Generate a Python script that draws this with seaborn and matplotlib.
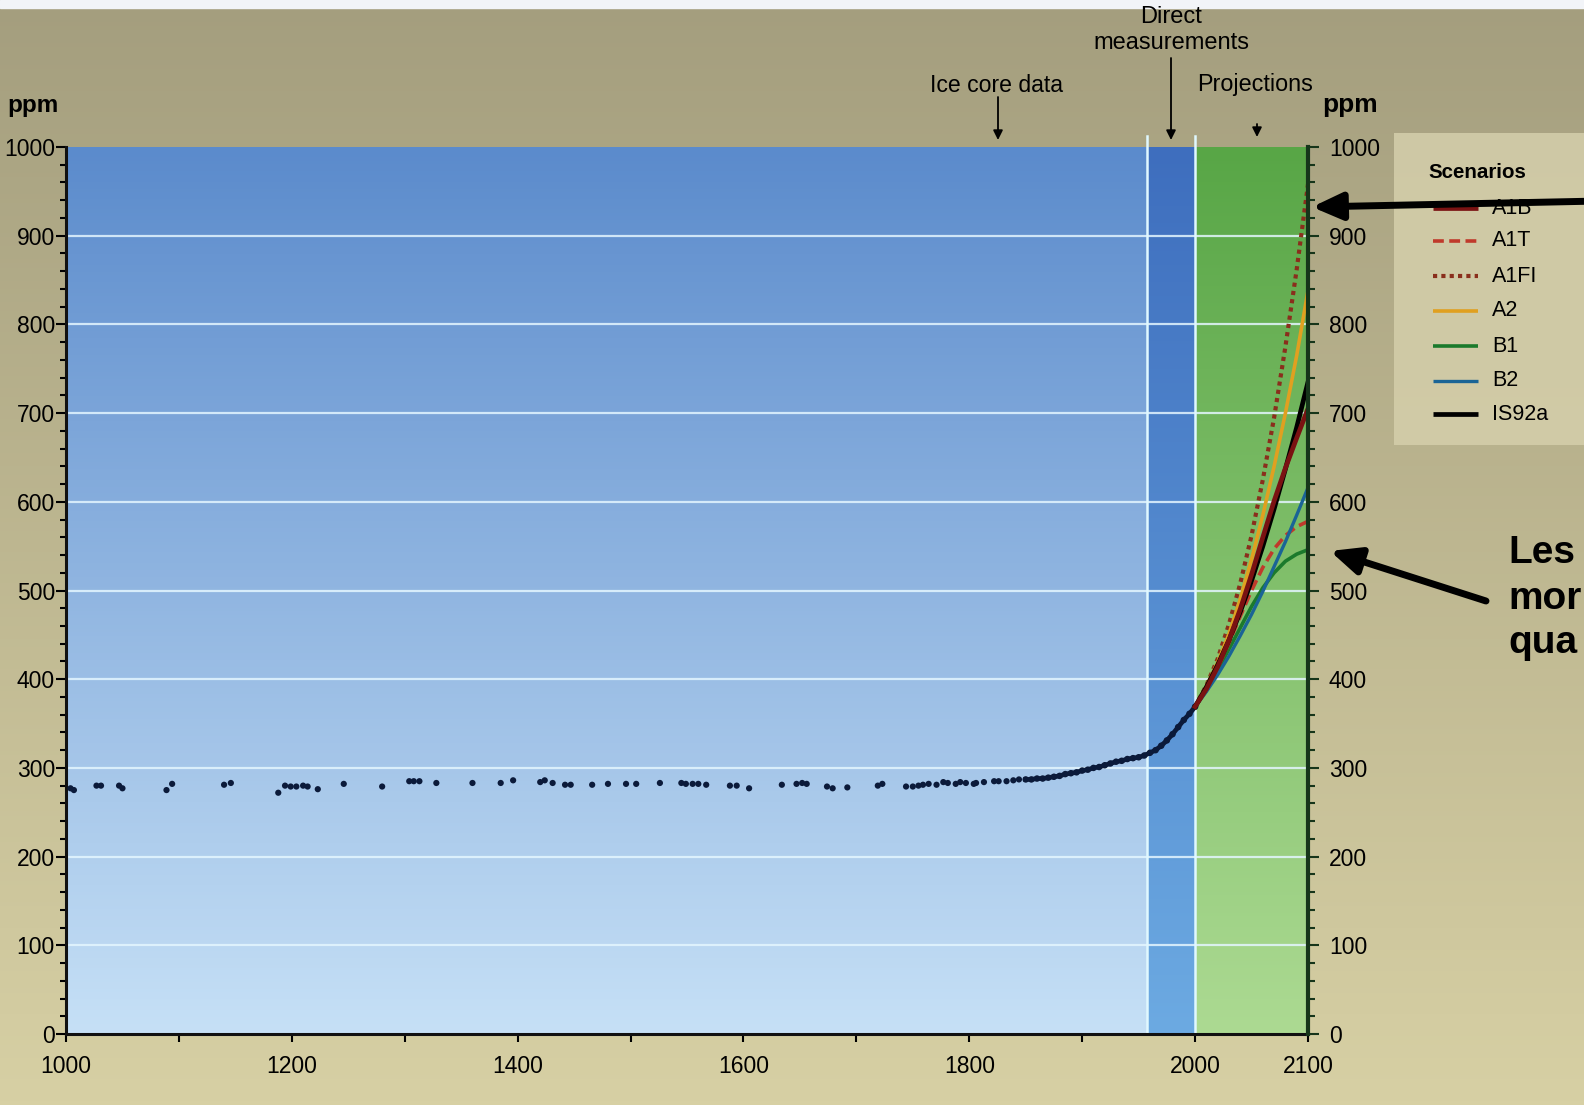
import numpy as np
import pandas as pd
import matplotlib
matplotlib.use("Agg")
import matplotlib.pyplot as plt
import seaborn as sns
from matplotlib.patches import Rectangle
from matplotlib.ticker import MultipleLocator

plt.rcParams['font.family'] = ['Liberation Sans', 'DejaVu Sans']

# ice core samples (year, ppm)
ice_years = [1004, 1007, 1027, 1031, 1047, 1050, 1089, 1094, 1140, 1146,
             1188, 1194, 1199, 1204, 1210, 1214, 1223, 1246, 1280, 1304,
             1308, 1313, 1328, 1360, 1385, 1396, 1420, 1424, 1431, 1442,
             1447, 1466, 1480, 1496, 1505, 1526, 1545, 1549, 1555, 1560,
             1567, 1588, 1594, 1605, 1634, 1647, 1652, 1656, 1674, 1679,
             1692, 1719, 1723, 1744, 1750, 1755, 1759, 1764, 1771, 1777,
             1781, 1788, 1792, 1797, 1804, 1806, 1813, 1822, 1826, 1833,
             1839, 1844]
ice_ppm = [277, 275, 280, 280, 280, 277, 275, 282, 281, 283,
           272, 280, 279, 279, 280, 279, 276, 282, 279, 285,
           285, 285, 283, 283, 283, 286, 284, 286, 283, 281,
           281, 281, 282, 282, 282, 283, 283, 282, 282, 282,
           281, 280, 280, 277, 281, 282, 283, 282, 279, 277,
           278, 280, 282, 279, 279, 280, 281, 282, 281, 284,
           283, 282, 284, 283, 282, 283, 284, 285, 285, 285,
           286, 287]

# smoothed record (ice core + direct measurements)
rec_years = list(range(1850, 2001, 5))
rec_ppm = [287, 287, 288, 288, 289, 290, 291, 293, 294, 295,
           297, 298, 300, 301, 303, 305, 307, 308, 310, 311,
           312, 314, 317, 320, 325, 331, 338, 346, 354, 361, 369]

# projections
proj_years = list(range(2000, 2101, 10))
A1B = [369, 389, 414, 444, 479, 518, 560, 601, 638, 672, 705]
A1T = [369, 389, 413, 441, 471, 500, 526, 547, 562, 572, 578]
A1FI = [369, 393, 423, 462, 508, 562, 625, 695, 775, 862, 958]
A2 = [369, 392, 419, 451, 490, 535, 585, 640, 700, 765, 838]
B1 = [369, 387, 410, 434, 458, 482, 503, 520, 533, 541, 546]
B2 = [369, 386, 405, 426, 449, 473, 499, 527, 555, 585, 616]
IS92a = [369, 391, 416, 444, 476, 511, 550, 592, 637, 684, 735]

scenarios = ['A1B', 'A1T', 'A1FI', 'A2', 'B1', 'B2', 'IS92a']
series = {'A1B': A1B, 'A1T': A1T, 'A1FI': A1FI, 'A2': A2,
          'B1': B1, 'B2': B2, 'IS92a': IS92a}

colors = {'A1B': '#7a1212', 'A1T': '#c0392b', 'A1FI': '#8a2e1c', 'A2': '#e0a020',
          'B1': '#1b7a2c', 'B2': '#1a6496', 'IS92a': '#000000'}
styles = {'A1B': '-', 'A1T': (0, (3, 1.5)), 'A1FI': (0, (1, 1)), 'A2': '-',
          'B1': '-', 'B2': '-', 'IS92a': '-'}
widths = {'A1B': 3.4, 'A1T': 2.6, 'A1FI': 3, 'A2': 2.6, 'B1': 2.6, 'B2': 2.4, 'IS92a': 3.4}
draw_order = ['A1FI', 'A2', 'B1', 'A1T', 'B2', 'IS92a', 'A1B']

W, H = 1584, 1105
fig = plt.figure(figsize=(15.84, 11.05), dpi=100)


def vgrad(top, bot):
    t = np.linspace(0, 1, 256)[:, None, None]
    top = np.array(top) / 255.0
    bot = np.array(bot) / 255.0
    return top + (bot - top) * t


# figure background
bg = fig.add_axes([0, 0, 1, 1], zorder=-5)
bg.imshow(vgrad((164, 158, 126), (215, 208, 164)), aspect='auto',
          extent=(0, 1, 0, 1), origin='upper')
bg.add_patch(Rectangle((0, 1 - 8 / H), 1, 8 / H, color='#f2f4f8'))
bg.set_xlim(0, 1)
bg.set_ylim(0, 1)
bg.axis('off')

ax = fig.add_axes([66 / W, 1 - 1034 / H, (1308 - 66) / W, (1034 - 147) / H])
ax.patch.set_visible(False)

ax.imshow(vgrad((91, 139, 204), (198, 224, 246)), extent=(1000, 1957, 0, 1000),
          aspect='auto', origin='upper', zorder=0)
ax.imshow(vgrad((62, 110, 190), (108, 170, 226)), extent=(1957, 2000, 0, 1000),
          aspect='auto', origin='upper', zorder=0)
ax.imshow(vgrad((88, 166, 70), (172, 218, 146)), extent=(2000, 2100, 0, 1000),
          aspect='auto', origin='upper', zorder=0)

for v in range(100, 1000, 100):
    ax.axhline(v, color='#e4f6ff', lw=1.6, alpha=0.85, zorder=1)
for v in (1957, 2000):
    ax.axvline(v, ymax=1.012, color='#e0f8ff', lw=1.8, clip_on=False, zorder=2)

sns.scatterplot(x=ice_years, y=ice_ppm, ax=ax, s=20, color='#0b1a3a',
                edgecolor='none', zorder=3)
sns.lineplot(x=rec_years, y=rec_ppm, ax=ax, color='#0b1a3a', lw=3.4, zorder=3)
sns.scatterplot(x=rec_years, y=rec_ppm, ax=ax, s=22, color='#0b1a3a',
                edgecolor='none', zorder=3)

df = pd.DataFrame({'year': proj_years * len(scenarios),
                   'ppm': sum([series[s] for s in scenarios], []),
                   'scenario': np.repeat(scenarios, len(proj_years))})
for s in draw_order:
    sns.lineplot(data=df[df.scenario == s], x='year', y='ppm', ax=ax,
                 color=colors[s], lw=widths[s], linestyle=styles[s], zorder=4)

ax.set_xlim(1000, 2100)
ax.set_ylim(0, 1000)
ax.set_xlabel('')
ax.set_ylabel('')
xt = list(range(1000, 2101, 100))
ax.set_xticks(xt)
ax.set_xticklabels([str(x) if (x % 200 == 0 or x == 2100) else '' for x in xt])
ax.yaxis.set_major_locator(MultipleLocator(100))
ax.yaxis.set_minor_locator(MultipleLocator(20))
ax.tick_params(axis='y', which='major', length=7, width=1.5, pad=1, labelsize=16.5)
ax.tick_params(axis='y', which='minor', length=4, width=1.5)
ax.tick_params(axis='x', length=6, width=1.5, pad=9, labelsize=16.5)
for side in ('top', 'right'):
    ax.spines[side].set_visible(False)
for side in ('left', 'bottom'):
    ax.spines[side].set_linewidth(2.2)
    ax.spines[side].set_color('#111111')

ax2 = ax.twinx()
ax2.set_ylim(0, 1000)
ax2.yaxis.set_major_locator(MultipleLocator(100))
ax2.yaxis.set_minor_locator(MultipleLocator(20))
ax2.tick_params(axis='y', which='major', length=8, width=1.5, pad=7, labelsize=16.5,
                color='#16351a')
ax2.tick_params(axis='y', which='minor', length=5, width=1.5, color='#16351a')
for side in ('top', 'left', 'bottom'):
    ax2.spines[side].set_visible(False)
ax2.spines['right'].set_linewidth(3)
ax2.spines['right'].set_color('#16351a')

# overlay in pixel coordinates (origin top-left)
ov = fig.add_axes([0, 0, 1, 1], zorder=10)
ov.set_xlim(0, W)
ov.set_ylim(H, 0)
ov.axis('off')
ov.patch.set_visible(False)

ov.text(7, 112, 'ppm', fontsize=17.5, weight='bold', ha='left', va='baseline')
ov.text(1322, 112, 'ppm', fontsize=19, weight='bold', ha='left', va='baseline')

small_arrow = dict(arrowstyle='-|>', color='black', lw=1.3, mutation_scale=14,
                   shrinkA=0, shrinkB=0)
ov.text(997, 85, 'Ice core data', fontsize=16.6, ha='center', va='center')
ov.annotate('', xy=(998, 140), xytext=(998, 97), arrowprops=small_arrow)
ov.text(1171, 17, 'Direct', fontsize=17, ha='center', va='center')
ov.text(1171, 43, 'measurements', fontsize=17, ha='center', va='center')
ov.annotate('', xy=(1171, 140), xytext=(1171, 58), arrowprops=small_arrow)
ov.text(1255, 84, 'Projections', fontsize=16.8, ha='center', va='center')
ov.annotate('', xy=(1257, 137), xytext=(1257, 124), arrowprops=small_arrow)

# legend box
ov.add_patch(Rectangle((1394, 133), 230, 312, facecolor='#d3cda9', edgecolor='none',
                       alpha=0.9, zorder=1))
ov.text(1477, 172, 'Scenarios', fontsize=14.8, weight='bold', ha='center', va='center',
        zorder=2)
leg_y = [208, 241, 276, 311, 346, 381, 414]
for s, yy in zip(scenarios, leg_y):
    ov.plot([1433, 1478], [yy, yy], color=colors[s], lw=widths[s],
            linestyle=styles[s], solid_capstyle='butt', zorder=2)
    ov.text(1492, yy, s, fontsize=15.5, ha='left', va='center', zorder=2)

big_arrow = dict(arrowstyle='-|>,head_length=1.0,head_width=0.45', color='black',
                 lw=5, mutation_scale=18, shrinkA=0, shrinkB=0)
ov.annotate('', xy=(1312, 207), xytext=(1600, 201), arrowprops=big_arrow, zorder=5)
ov.annotate('', xy=(1330, 551), xytext=(1486, 601), arrowprops=big_arrow, zorder=5)

ov.text(1508, 563, 'Les', fontsize=28, weight='bold', ha='left', va='baseline')
ov.text(1508, 609, 'mor', fontsize=28, weight='bold', ha='left', va='baseline')
ov.text(1508, 653, 'qua', fontsize=28, weight='bold', ha='left', va='baseline')

fig.savefig('out.png', dpi=100)
